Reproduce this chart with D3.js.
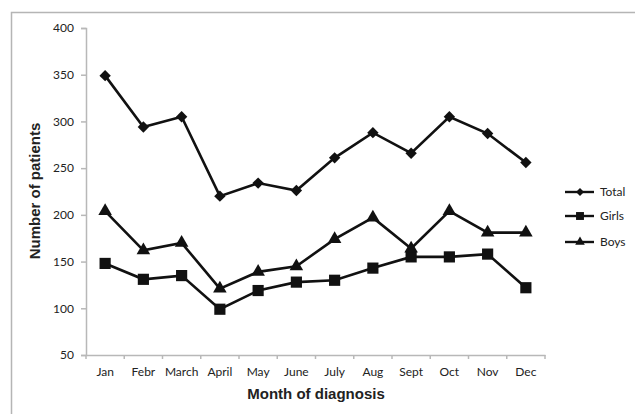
<!DOCTYPE html>
<html><head><meta charset="utf-8">
<script src="https://cdn.jsdelivr.net/npm/d3@7"></script>
<style>body{margin:0;background:#fff}svg{display:block}</style>
</head><body>
<script>
const months = ["Jan","Febr","March","April","May","June","July","Aug","Sept","Oct","Nov","Dec"];
const total = [349,294,305,220,234,226,261,288,266,305,287,256];
const girls = [148,131,135,99,119,128,130,143,155,155,158,122];
const boys  = [204,162,170,121,139,145,174,197,164,204,181,181];
const yTicks = [50,100,150,200,250,300,350,400];
const seriesNames = ["Total","Girls","Boys"];

const W=635,H=414;
const svg=d3.select("body").append("svg").attr("width",W).attr("height",H);
svg.append("rect").attr("x",11.5).attr("y",12.5).attr("width",700).attr("height",500)
  .attr("fill","#fff").attr("stroke","#b5b5b5").attr("stroke-width",1.5);

const x=d3.scaleBand().domain(months).range([86,545]);
const y=d3.scaleLinear().domain([50,400]).range([355,28]);
const font="Lato, 'Open Sans', sans-serif";
const axisCol="#b8b8b8";

const yAxis=svg.append("g").attr("transform","translate(86,0)")
  .call(d3.axisLeft(y).tickValues(yTicks).tickSize(5).tickPadding(7));
const xAxis=svg.append("g").attr("transform","translate(0,355)")
  .call(d3.axisBottom(x).tickSize(0).tickPadding(12));
[yAxis,xAxis].forEach(g=>{
  g.select(".domain").attr("stroke",axisCol).attr("stroke-width",1.5);
  g.selectAll(".tick line").attr("stroke",axisCol).attr("stroke-width",1.5);
  g.selectAll("text").attr("fill","#222").style("font-family",font).style("font-size","12px");
});
xAxis.selectAll(".bt").data(d3.range(months.length+1)).enter().append("line")
  .attr("x1",i=>86+i*x.step()).attr("x2",i=>86+i*x.step())
  .attr("y1",0).attr("y2",4).attr("stroke",axisCol).attr("stroke-width",1.5);

svg.append("text").attr("x",316).attr("y",399).attr("text-anchor","middle")
  .style("font-family","'Liberation Sans', Arial, sans-serif").style("font-weight","bold").style("font-size","15px")
  .attr("fill","#222").text("Month of diagnosis");
svg.append("text").attr("transform","translate(40,191) rotate(-90)").attr("text-anchor","middle")
  .style("font-family","'Liberation Sans', Arial, sans-serif").style("font-weight","bold").style("font-size","15px")
  .attr("fill","#222").text("Number of patients");

const diamond={draw(ctx,size){const r=Math.sqrt(size/2);ctx.moveTo(0,-r);ctx.lineTo(r,0);ctx.lineTo(0,r);ctx.lineTo(-r,0);ctx.closePath();}};
const data=[total,girls,boys];
const syms=[diamond,d3.symbolSquare,d3.symbolTriangle];
const sizes=[65,125,80];
const line=d3.line().x((d,i)=>x(months[i])+x.bandwidth()/2).y(d=>y(d));
data.forEach((s,k)=>{
  svg.append("path").datum(s).attr("d",line).attr("fill","none").attr("stroke","#111").attr("stroke-width",2.6);
  svg.selectAll(".m"+k).data(s).enter().append("path")
    .attr("transform",(d,i)=>`translate(${x(months[i])+x.bandwidth()/2},${y(d)})`)
    .attr("d",d3.symbol().type(syms[k]).size(sizes[k])).attr("fill","#111");
});

const ly=[192,216,242];
seriesNames.forEach((n,k)=>{
  svg.append("line").attr("x1",565).attr("x2",594).attr("y1",ly[k]).attr("y2",ly[k]).attr("stroke","#111").attr("stroke-width",2.4);
  svg.append("path").attr("transform",`translate(580,${ly[k]})`)
    .attr("d",d3.symbol().type(syms[k]).size(sizes[k]*0.5)).attr("fill","#111");
  svg.append("text").attr("x",600).attr("y",ly[k]+4).style("font-family",font).style("font-size","12px").attr("fill","#222").text(n);
});
</script>
</body></html>
